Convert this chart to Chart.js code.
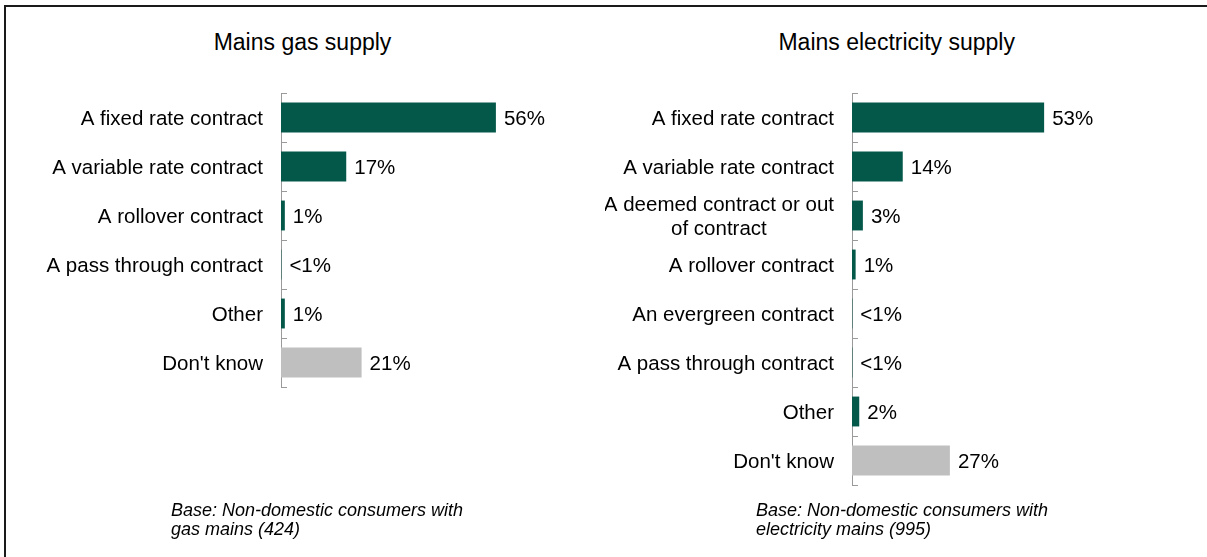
<!DOCTYPE html>
<html lang="en">
<head>
    <meta charset="UTF-8">
    <title>Type of contract - gas and electricity</title>
    <style>
        body {
            margin: 0;
            background: #fff;
            font-family: "Liberation Sans", Arial, sans-serif;
            color: #000;
        }
        #frame {
            position: absolute;
            left: 4px;
            top: 5px;
            width: 1203px;
            height: 552px;
            border-left: 2px solid #1a1a1a;
            border-top: 2px solid #1a1a1a;
        }
        canvas {
            position: absolute;
            top: 0;
        }
        .title {
            position: absolute;
            top: 29px;
            font-size: 23px;
            white-space: nowrap;
            transform: translateX(-50%);
        }
        .base {
            position: absolute;
            top: 501px;
            font-size: 18px;
            line-height: 19px;
            font-style: italic;
            white-space: nowrap;
        }
    </style>
    <script src="https://cdn.jsdelivr.net/npm/chart.js"></script>
</head>
<body>
    <div id="frame"></div>

    <div class="title" style="left:302.5px">Mains gas supply</div>
    <div class="title" style="left:896.7px">Mains electricity supply</div>

    <canvas id="gasChart" width="605" height="557" style="left:0"></canvas>
    <canvas id="elecChart" width="602" height="557" style="left:605px"></canvas>

    <div class="base" style="left:171px">Base: Non-domestic consumers with<br>gas mains (424)</div>
    <div class="base" style="left:756px">Base: Non-domestic consumers with<br>electricity mains (995)</div>

    <script>
        // gas supply
        const gasCategories = [
            'A fixed rate contract',
            'A variable rate contract',
            'A rollover contract',
            'A pass through contract',
            'Other',
            "Don't know"
        ];
        const gasValues = [56, 17, 1, 0.1, 1, 21];

        // electricity supply
        const elecCategories = [
            'A fixed rate contract',
            'A variable rate contract',
            ['A deemed contract or out', 'of contract'],
            'A rollover contract',
            'An evergreen contract',
            'A pass through contract',
            'Other',
            "Don't know"
        ];
        const elecValues = [53, 14, 3, 1, 0.1, 0.1, 2, 27];

        const GREEN = '#04584a';
        const GREY = '#bfbfbf';
        const AXIS = '#9a9a9a';
        const FONT = '"Liberation Sans", Arial, sans-serif';
        const LABEL_SIZE = 20.5;
        const TEXT_NUDGE = 2; // 'middle' sits a touch high for this font

        function pctText(v) {
            return v < 1 ? '<1%' : Math.round(v) + '%';
        }

        // category labels, inside tick marks and value labels
        const barText = {
            id: 'barText',
            afterDatasetsDraw(chart) {
                const ctx = chart.ctx;
                const area = chart.chartArea;
                const y = chart.scales.y;
                const cats = chart.data.labels;
                const vals = chart.data.datasets[0].data;
                ctx.save();

                // short tick marks pointing into the plot
                ctx.strokeStyle = AXIS;
                ctx.lineWidth = 1;
                for (let i = 0; i <= cats.length; i++) {
                    const py = Math.round(y.getPixelForValue(i - 0.5)) + 0.5;
                    ctx.beginPath();
                    ctx.moveTo(area.left, py);
                    ctx.lineTo(area.left + 6, py);
                    ctx.stroke();
                }

                ctx.font = LABEL_SIZE + 'px ' + FONT;
                ctx.fillStyle = '#000';
                ctx.textBaseline = 'middle';

                // category names, right-aligned block, lines centred
                const right = area.left - 18;
                cats.forEach((c, i) => {
                    const py = y.getPixelForValue(i) + TEXT_NUDGE;
                    if (Array.isArray(c)) {
                        const w = Math.max(...c.map(s => ctx.measureText(s).width));
                        const lh = 23.5;
                        ctx.textAlign = 'center';
                        c.forEach((s, k) => {
                            ctx.fillText(s, right - w / 2, py + (k - (c.length - 1) / 2) * lh);
                        });
                    } else {
                        ctx.textAlign = 'right';
                        ctx.fillText(c, right, py);
                    }
                });

                // percentages at the bar ends
                ctx.textAlign = 'left';
                chart.getDatasetMeta(0).data.forEach((bar, i) => {
                    ctx.fillText(pctText(vals[i]), bar.x + 8, bar.y + TEXT_NUDGE);
                });
                ctx.restore();
            }
        };

        function makeChart(id, categories, values, padding) {
            const ctx = document.getElementById(id).getContext('2d');
            return new Chart(ctx, {
                type: 'bar',
                data: {
                    labels: categories,
                    datasets: [{
                        data: values,
                        backgroundColor: categories.map(c => c === "Don't know" ? GREY : GREEN),
                        borderWidth: 0,
                        categoryPercentage: 1,
                        barPercentage: 0.61
                    }]
                },
                options: {
                    indexAxis: 'y',
                    responsive: false,
                    animation: false,
                    devicePixelRatio: 1,
                    layout: { padding: padding },
                    plugins: {
                        legend: { display: false },
                        tooltip: { enabled: false }
                    },
                    scales: {
                        x: {
                            type: 'linear',
                            min: 0,
                            max: 80,
                            display: false
                        },
                        y: {
                            grid: { display: false, drawTicks: false },
                            ticks: { display: false },
                            border: { display: true, color: AXIS, width: 1 }
                        }
                    }
                },
                plugins: [barText]
            });
        }

        makeChart('gasChart', gasCategories, gasValues, { left: 281, right: 17, top: 93, bottom: 170 });
        makeChart('elecChart', elecCategories, elecValues, { left: 247, right: 65, top: 93, bottom: 72 });
    </script>
</body>
</html>
